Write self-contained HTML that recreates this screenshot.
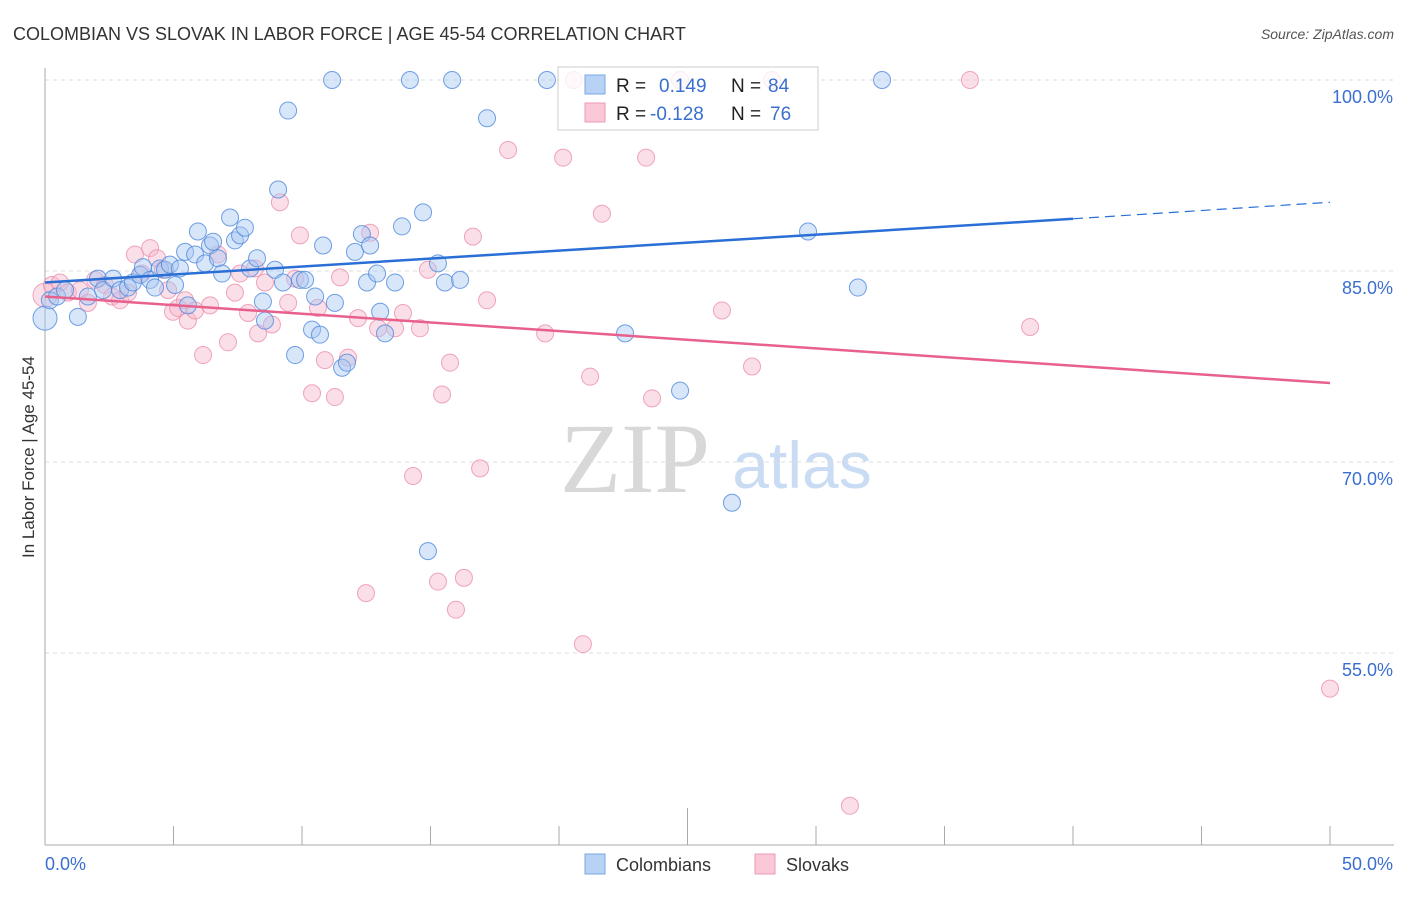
<!DOCTYPE html>
<html><head><meta charset="utf-8"><style>
body{margin:0;background:#fff;font-family:"Liberation Sans",sans-serif;}
</style></head><body>
<svg id="chart" width="1406" height="892" xmlns="http://www.w3.org/2000/svg" font-family="Liberation Sans, sans-serif">
<text x="13" y="40" font-size="18" fill="#333">COLOMBIAN VS SLOVAK IN LABOR FORCE | AGE 45-54 CORRELATION CHART</text>
<text x="1394" y="39" font-size="14" fill="#555" text-anchor="end" font-style="italic">Source: ZipAtlas.com</text>
<text transform="translate(34,457) rotate(-90)" font-size="17" fill="#333" text-anchor="middle">In Labor Force | Age 45-54</text>
<g>
<text x="635" y="492" font-size="100" fill="#d8d8d8" style="font-family:'Liberation Serif',serif" text-anchor="middle">ZIP</text>
<text x="802" y="488" font-size="66" fill="#c9dcf3" text-anchor="middle">atlas</text>
</g>
<g id="grid"></g><g id="axes"></g><g id="pts"></g><g id="lines"></g>
<g>
<rect x="558" y="67" width="260" height="63" fill="#fff" fill-opacity="0.8" stroke="#ccc"/>
<rect x="585" y="75" width="20" height="19" fill="#b8d2f5" stroke="#7aa7e6"/>
<rect x="585" y="103" width="20" height="19" fill="#fac8d7" stroke="#ef9ab4"/>
<text x="616" y="92" font-size="19" fill="#222">R =</text><text x="659" y="92" font-size="19" fill="#3a6fd0">0.149</text>
<text x="731" y="92" font-size="19" fill="#222">N =</text><text x="768" y="92" font-size="19" fill="#3a6fd0">84</text>
<text x="616" y="120" font-size="19" fill="#222">R =</text><text x="650" y="120" font-size="19" fill="#3a6fd0">-0.128</text>
<text x="731" y="120" font-size="19" fill="#222">N =</text><text x="770" y="120" font-size="19" fill="#3a6fd0">76</text>
</g>
<g>
<rect x="585" y="854" width="20" height="20" fill="#b8d2f5" stroke="#7aa7e6"/>
<text x="616" y="871" font-size="18" fill="#333">Colombians</text>
<rect x="755" y="854" width="20" height="20" fill="#fac8d7" stroke="#ef9ab4"/>
<text x="786" y="871" font-size="18" fill="#333">Slovaks</text>
</g>
</svg>
<script>
const yTicks=[100,85,70,55];
const xTickLabels=["0.0%","50.0%"];
const blueData=[[0,81.3],[0.19,82.7],[0.47,83.0],[0.78,83.5],[1.28,81.4],[1.67,83.0],[2.06,84.4],[2.26,83.5],[2.65,84.4],[2.92,83.5],[3.23,83.7],[3.42,84.1],[3.70,84.7],[3.81,85.3],[4.09,84.3],[4.28,83.7],[4.47,85.2],[4.67,85.1],[4.86,85.5],[5.06,83.9],[5.25,85.2],[5.45,86.5],[5.56,82.3],[5.84,86.3],[5.95,88.1],[6.23,85.6],[6.42,87.0],[6.54,87.3],[6.73,86.0],[6.89,84.8],[7.20,89.2],[7.39,87.4],[7.59,87.8],[7.78,88.4],[7.98,85.2],[8.25,86.0],[8.48,82.6],[8.56,81.1],[8.95,85.1],[9.07,91.4],[9.26,84.1],[9.46,97.6],[9.73,78.4],[9.92,84.3],[10.12,84.3],[10.39,80.4],[10.51,83.0],[10.70,80.0],[10.82,87.0],[11.28,82.5],[11.56,77.4],[11.75,77.8],[11.17,100],[12.06,86.5],[12.33,87.9],[12.53,84.1],[12.65,87.0],[12.92,84.8],[13.04,81.8],[13.23,80.1],[13.62,84.1],[13.89,88.5],[14.20,100],[14.71,89.6],[14.90,63.0],[15.29,85.6],[15.56,84.1],[15.84,100],[16.15,84.3],[17.20,97.0],[19.53,100],[22.57,80.1],[24.71,75.6],[26.73,66.8],[29.69,88.1],[31.63,83.7],[32.57,100]];
const pinkData=[[0,83.1],[0.27,83.9],[0.58,84.1],[0.89,83.3],[1.36,83.5],[1.67,82.5],[1.95,84.3],[2.33,83.9],[2.61,83.0],[2.92,82.7],[3.23,83.3],[3.50,86.3],[3.77,84.8],[4.09,86.8],[4.36,86.0],[4.59,85.1],[4.79,83.5],[4.98,81.8],[5.18,82.1],[5.45,82.7],[5.56,81.1],[5.84,81.9],[6.15,78.4],[6.42,82.3],[6.73,86.3],[7.12,79.4],[7.39,83.3],[7.59,84.8],[7.90,81.7],[8.17,85.2],[8.29,80.1],[8.56,84.1],[8.83,80.8],[9.14,90.4],[9.46,82.5],[9.73,84.4],[9.92,87.8],[10.39,75.4],[10.62,82.1],[10.89,78.0],[11.28,75.1],[11.48,84.5],[11.79,78.2],[12.18,81.3],[12.49,59.7],[12.65,88.0],[12.96,80.5],[13.62,80.5],[13.93,81.7],[14.32,68.9],[14.59,80.5],[14.90,85.1],[15.29,60.6],[15.45,75.3],[15.76,77.8],[15.99,58.4],[16.30,60.9],[16.65,87.7],[16.93,69.5],[17.20,82.7],[18.02,94.5],[19.46,80.1],[20.16,93.9],[20.58,100],[20.93,55.7],[21.21,76.7],[21.67,89.5],[23.39,93.9],[23.62,75.0],[24.71,100],[26.34,81.9],[27.51,77.5],[28.29,100],[31.32,43.0],[35.99,100],[38.33,80.6],[50,52.2]];
const blueTrend=[[0,84.1],[40,89.1],[50,90.4]];
const pinkTrend=[[0,83.0],[50,76.2]];
const NS="http://www.w3.org/2000/svg";
const X=v=>45+v*25.7, Y=v=>80+(100-v)*12.733;
function mk(t,a,p){const e=document.createElementNS(NS,t);for(const k in a)e.setAttribute(k,a[k]);document.getElementById(p).appendChild(e);return e;}
yTicks.forEach(t=>{
 const l=mk('line',{x1:45,x2:1394,y1:Y(t),y2:Y(t),stroke:'#ddd','stroke-dasharray':'4,4'},'grid');
 
 
 const tx=mk('text',{x:1393,y:Y(t)+23,'font-size':18,fill:'#3a6fd0','text-anchor':'end'},'grid');
 tx.textContent=t.toFixed(1)+'%';
 
 
});
let a=mk('line',{x1:45,x2:45,y1:68,y2:845,stroke:'#aaa'},'axes');


a=mk('line',{x1:45,x2:1394,y1:845,y2:845,stroke:'#aaa'},'axes');


for(let i=0;i<=10;i++){const t=mk('line',{x1:X(i*5),x2:X(i*5),y1:i==5?808:826,y2:845,stroke:'#aaa'},'axes');
 
 }
xTickLabels.forEach((s,i)=>{const t=mk('text',{x:i?1393:45,y:870,'font-size':18,fill:'#3a6fd0','text-anchor':i?'end':'start'},'axes');t.textContent=s;
 
 });
function pts(d,f,s,n){d.forEach(p=>{const c=mk('circle',{cx:X(p[0]),cy:Y(p[1]),r:p[0]===0?12:8.5,fill:f,'fill-opacity':0.45,stroke:s,'stroke-opacity':0.8},'pts');
 
 });}
pts(pinkData,'#f7b9cc','#ec8eab','slovak-point');
pts(blueData,'#a9c8f2','#4d88dc','colombian-point');
let l=mk('line',{x1:X(blueTrend[0][0]),y1:Y(blueTrend[0][1]),x2:X(blueTrend[1][0]),y2:Y(blueTrend[1][1]),stroke:'#2a6fd6','stroke-width':2.5},'lines');


l=mk('line',{x1:X(blueTrend[1][0]),y1:Y(blueTrend[1][1]),x2:X(blueTrend[2][0]),y2:Y(blueTrend[2][1]),stroke:'#2a6fd6','stroke-width':1.2,'stroke-dasharray':'10,6'},'lines');


l=mk('line',{x1:X(pinkTrend[0][0]),y1:Y(pinkTrend[0][1]),x2:X(pinkTrend[1][0]),y2:Y(pinkTrend[1][1]),stroke:'#e8608c','stroke-width':2.5},'lines');


</script>
</body></html>
